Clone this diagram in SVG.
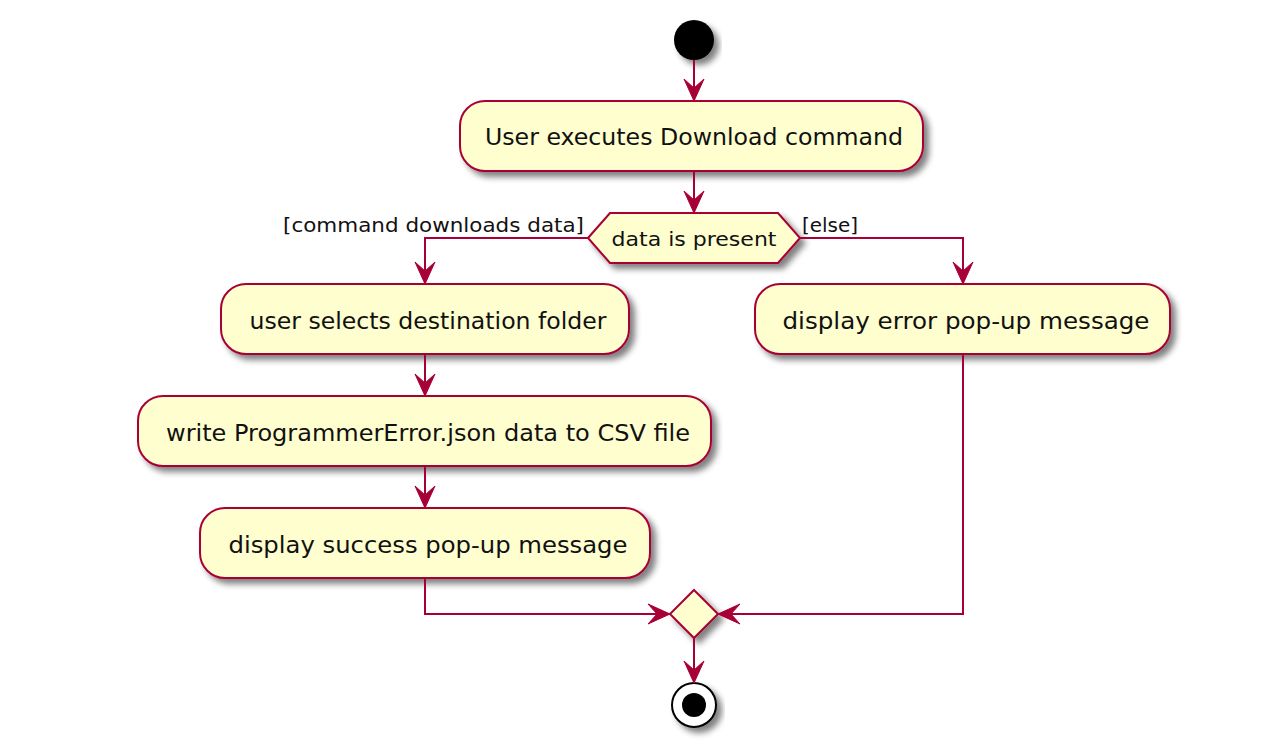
<svg xmlns="http://www.w3.org/2000/svg" width="1284" height="750" viewBox="0 0 1284 750">
<defs>
<filter id="sh" x="-20%" y="-20%" width="140%" height="160%">
<feGaussianBlur in="SourceAlpha" stdDeviation="3"/>
<feOffset dx="5" dy="5" result="b"/>
<feComponentTransfer><feFuncA type="linear" slope="0.5"/></feComponentTransfer>
<feMerge><feMergeNode/><feMergeNode in="SourceGraphic"/></feMerge>
</filter>
<marker id="ar" markerUnits="userSpaceOnUse" viewBox="-24 -12 26 24" refX="0" refY="0" markerWidth="26" markerHeight="24" orient="auto">
<path d="M0,0 L-22,-10 L-13,0 L-22,10 Z" fill="#A80036" stroke="#A80036" stroke-width="1" stroke-linejoin="round"/>
</marker>
</defs>
<style>
.act{fill:#FEFECE;stroke:#A80036;stroke-width:2;filter:url(#sh)}
.t{font-family:"DejaVu Sans","Liberation Sans",sans-serif;font-size:23px;fill:#111;text-anchor:middle}
.lb{font-family:"DejaVu Sans","Liberation Sans",sans-serif;font-size:19px;fill:#111}
.c{fill:none;stroke:#A80036;stroke-width:2;marker-end:url(#ar)}
</style>
<rect width="1284" height="750" fill="#fff"/>
<g id="start"><circle cx="694" cy="40" r="20" fill="#000" filter="url(#sh)"/></g>
<g id="n1"><rect class="act" x="460" y="101" width="463" height="70" rx="25"/><text class="t" x="694" y="145" textLength="418" lengthAdjust="spacingAndGlyphs">User executes Download command</text></g>
<g id="d1"><polygon class="act" points="588,238 610,213 778,213 800,238 778,263 610,263"/><text class="lb" x="694" y="246" text-anchor="middle" font-size="20" textLength="165" lengthAdjust="spacingAndGlyphs">data is present</text></g>
<g id="l1"><text class="lb" x="584" y="232" text-anchor="end" textLength="301" lengthAdjust="spacingAndGlyphs">[command downloads data]</text></g>
<g id="l2"><text class="lb" x="802" y="232" textLength="56" lengthAdjust="spacingAndGlyphs">[else]</text></g>
<g id="n2"><rect class="act" x="221" y="284" width="408" height="70" rx="25"/><text class="t" x="428" y="329" textLength="357" lengthAdjust="spacingAndGlyphs">user selects destination folder</text></g>
<g id="n3"><rect class="act" x="755" y="284" width="415" height="70" rx="25"/><text class="t" x="966" y="329" textLength="367" lengthAdjust="spacingAndGlyphs">display error pop-up message</text></g>
<g id="n4"><rect class="act" x="138" y="396" width="573" height="70" rx="25"/><text class="t" x="428" y="441" textLength="524" lengthAdjust="spacingAndGlyphs">write ProgrammerError.json data to CSV file</text></g>
<g id="n5"><rect class="act" x="200" y="508" width="450" height="70" rx="25"/><text class="t" x="428" y="553" textLength="399" lengthAdjust="spacingAndGlyphs">display success pop-up message</text></g>
<g id="merge"><polygon class="act" points="694,590 718,614 694,638 670,614"/></g>
<g id="end"><circle cx="694" cy="705" r="22" fill="#fff" stroke="#000" stroke-width="2" filter="url(#sh)"/><circle cx="694" cy="705" r="12" fill="#000"/></g>
<g id="connectors">
<path class="c" d="M694,60 L694,101"/>
<path class="c" d="M694,171 L694,213"/>
<path class="c" d="M588,238 L425,238 L425,284"/>
<path class="c" d="M800,238 L963,238 L963,284"/>
<path class="c" d="M425,354 L425,396"/>
<path class="c" d="M425,466 L425,508"/>
<path class="c" d="M425,578 L425,614 L670,614"/>
<path class="c" d="M963,354 L963,614 L718,614"/>
<path class="c" d="M694,638 L694,683"/>
</g>
</svg>
